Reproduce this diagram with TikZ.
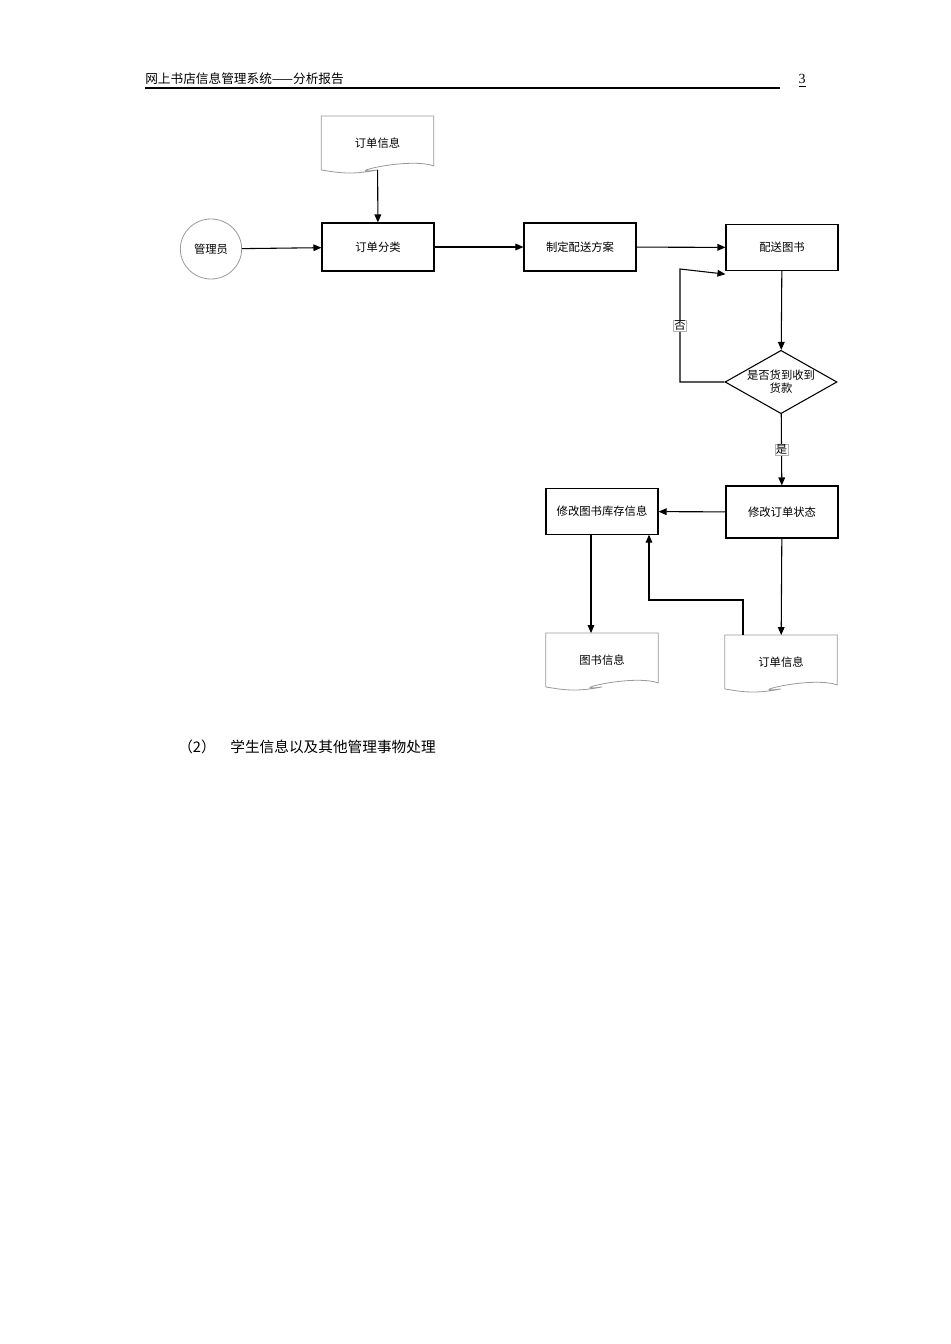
\documentclass[tikz,border=0pt]{standalone}
\usepackage{fontspec}
\setmainfont{Liberation Serif}
\newfontfamily\cjk{Noto Sans CJK SC}
\usetikzlibrary{positioning,arrows.meta,shapes.geometric}

\tikzset{
  proc/.style={draw,thick,minimum width=84pt,minimum height=36pt,font=\cjk\fontsize{8.5}{10}\selectfont,inner sep=1pt},
  doc/.style={minimum width=84pt,minimum height=40pt,font=\cjk\fontsize{8.5}{10}\selectfont,inner sep=1pt},
  flow/.style={thick,-{Triangle[length=6pt,width=5pt]}},
  lbl/.style={fill=white,draw=gray!60,thin,inner sep=0.5pt,font=\cjk\fontsize{8.5}{10}\selectfont}
}
% wavy document outline round a named node
\newcommand{\docwave}[1]{%
  \draw[gray!80,semithick] (#1.south west) -- (#1.north west) -- (#1.north east) -- ([yshift=3pt]#1.south east)
    .. controls ([xshift=-20pt,yshift=10pt]#1.south east) and ([xshift=-30pt,yshift=-4pt]#1.south) ..
    (#1.south)
    .. controls ([xshift=-20pt,yshift=-4pt]#1.south) and ([xshift=12pt,yshift=-2pt]#1.south west) ..
    (#1.south west);}

\begin{document}
\begin{tikzpicture}[x=0.75pt,y=-0.75pt]
\useasboundingbox (0,0) rectangle (950,1344);

% header
\node[anchor=base west,inner sep=0,font=\cjk\fontsize{9.5}{11}\selectfont] (title) at (145,84) {网上书店信息管理系统——分析报告};
\draw[thick] (145,88) -- (780,88);
\node[anchor=base,inner sep=0,font=\fontsize{10.5}{12}\selectfont] (pg) at (802,84) {\underline{3}};

% nodes
\node[doc] (info1) at (377.5,143) {订单信息};
\docwave{info1}
\node[draw,gray!80,semithick,ellipse,minimum width=46pt,minimum height=45pt,text=black,font=\cjk\fontsize{8.5}{10}\selectfont,inner sep=0] (admin) at (211,249) {管理员};
\node[proc] (sort) at (378,247) {订单分类};
\node[proc] (plan) at (580,247) {制定配送方案};
\node[proc,minimum height=34pt] (send) at (782,247.5) {配送图书};
\node[draw,thick,diamond,aspect=1.72,minimum width=84pt,inner sep=0,align=center,font=\cjk\fontsize{8.5}{10}\selectfont] (paid) at (781,382) {是否货到收到\\货款};
\node[proc,minimum height=39pt] (state) at (782,512) {修改订单状态};
\node[proc,minimum height=34pt] (stock) at (602,511.5) {修改图书库存信息};
\node[doc] (books) at (602,660) {图书信息};
\docwave{books}
\node[doc] (info2) at (781,662) {订单信息};
\docwave{info2}

% connectors
\draw[flow] (info1) -- (sort);
\draw[flow] (admin) -- (sort);
\draw[flow] (sort) -- (plan);
\draw[flow] (plan) -- (send);
\draw[flow] (send) -- (paid);
\draw[flow] (paid.west) -| (680,269) node[lbl,pos=0.75] {否} -- ([yshift=-20pt]send.west);
\draw[flow] (paid) -- (state) node[lbl,midway] {是};
\draw[flow] (state) -- (stock);
\draw[flow] (stock.south -| 591,0) -- (books.north -| 591,0);
\draw[flow] (state) -- (info2);
\draw[flow] (info2.north -| 743,0) |- (649,600) -- (stock.south -| 649,0);

% text below
\node[anchor=base west,inner sep=0,font=\cjk\fontsize{11}{13}\selectfont] (sub) at (178,752) {（2）\quad 学生信息以及其他管理事物处理};
\end{tikzpicture}
\end{document}
